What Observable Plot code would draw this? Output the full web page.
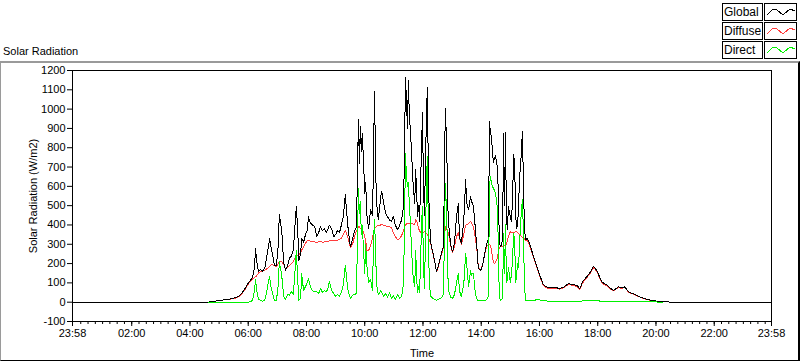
<!DOCTYPE html>
<html><head><meta charset="utf-8">
<script src="https://cdn.jsdelivr.net/npm/d3@7"></script>
<script src="https://cdn.jsdelivr.net/npm/@observablehq/plot@0.6"></script>
<style>
html,body{margin:0;padding:0;background:#fff;}
#wrap{position:relative;width:800px;height:361px;overflow:hidden;font-family:"Liberation Sans",Arial,sans-serif;font-size:11px;color:#000;background:#fff;}
#frame{position:absolute;left:0;top:61px;width:797px;height:297px;border-top:2px solid #9a9a9a;border-left:1px solid #9a9a9a;border-right:2px solid #000;border-bottom:1px solid #000;box-sizing:content-box;}
#title{position:absolute;left:3px;top:45px;font-size:11px;white-space:nowrap;}
#chart{position:absolute;left:0;top:0;}
.lab{position:absolute;left:722px;width:38px;height:16px;border:1px solid #000;background:#fff;font-size:12px;line-height:16px;padding-left:1px;box-sizing:content-box;}
.ico{position:absolute;left:764px;width:31px;height:16px;border:1px solid #000;background:#fff;}
.ico svg{display:block;}
</style>
</head><body>
<div id="wrap">
  <div id="frame"></div>
  <div id="chart"></div>
  <div id="title">Solar Radiation</div>
  <div id="legend"></div>
</div>
<script>
// ---- data ----
const times = ["23:58",
 "04:38","04:46","04:59","05:11","05:23","05:32","05:40","05:46","05:52","05:59",
 "06:05","06:09","06:13","06:15","06:17","06:21","06:25","06:29","06:34","06:38","06:42","06:44","06:46","06:50","06:54","06:58",
 "07:02","07:04","07:09","07:13","07:17","07:21","07:25","07:29","07:33","07:37","07:39","07:42","07:44","07:48","07:50","07:54","07:58",
 "08:02","08:04","08:08","08:12","08:17","08:21","08:25","08:29","08:33","08:37","08:41","08:45","08:47","08:52","08:56",
 "09:00","09:04","09:08","09:12","09:16","09:20","09:25","09:29","09:31","09:35","09:39","09:43","09:47","09:49","09:51","09:53","09:55","09:58",
 "10:00","10:02","10:04","10:08","10:12","10:16","10:18","10:20","10:22","10:24","10:26","10:28","10:33","10:35","10:39","10:43","10:47","10:51","10:55","10:59",
 "11:03","11:08","11:12","11:16","11:20","11:22","11:24","11:26","11:28","11:30","11:32","11:34","11:36","11:38","11:40","11:43","11:45","11:47","11:49","11:51","11:53","11:55","11:57","11:59",
 "12:01","12:03","12:05","12:07","12:09","12:11","12:13","12:16","12:20","12:24","12:28","12:32","12:36","12:40","12:42","12:44","12:46","12:49","12:51","12:53","12:57",
 "13:01","13:05","13:09","13:13","13:15","13:19","13:24","13:28","13:30","13:34","13:38","13:40","13:42","13:44","13:48","13:52","13:54","13:59",
 "14:03","14:07","14:11","14:15","14:17","14:19","14:21","14:23","14:25","14:27","14:29","14:32","14:34","14:36","14:38","14:40","14:44","14:46","14:48","14:50","14:52","14:54","14:56",
 "15:00","15:02","15:04","15:07","15:09","15:11","15:13","15:15","15:17","15:19","15:21","15:23","15:25","15:27","15:29","15:31","15:35","15:39","15:42","15:46","15:50","15:54","15:58",
 "16:02","16:08","16:17","16:25","16:33","16:41","16:50","16:56","17:00","17:06","17:12","17:18","17:23","17:27","17:31","17:37","17:43","17:47","17:51","17:55",
 "18:00","18:04","18:08","18:14","18:20","18:26","18:33","18:39","18:43","18:49","18:55","18:59","19:03","19:12","19:20","19:28","19:38","19:49","20:01","20:13","20:26","20:34",
 "23:58"];

const globalW = [0,
 0,4,8,12,17,22,30,45,65,95,
 115,130,180,279,220,157,170,160,175,235,290,331,296,250,192,190,
 300,452,374,203,166,190,227,240,270,420,495,380,215,250,330,310,350,
 374,443,410,400,391,339,360,391,370,380,360,383,400,380,339,
 350,372,360,400,443,556,400,310,287,330,370,390,945,720,912,780,876,700,
 560,620,461,380,478,450,700,1093,800,520,478,426,547,573,513,460,443,426,420,443,
 400,374,400,426,495,800,1162,1050,900,1150,950,900,800,700,600,513,686,560,443,500,420,600,800,980,
 600,450,700,950,1110,700,450,306,261,215,157,190,235,270,287,600,1006,800,500,400,300,
 261,306,443,513,340,306,420,634,513,478,547,520,513,495,380,253,175,166,
 190,250,300,330,937,870,860,790,722,740,760,720,680,450,300,287,320,876,500,878,430,374,495,
 442,420,500,764,700,450,380,400,500,650,700,800,885,600,400,322,330,310,287,250,220,190,160,
 131,90,76,74,75,72,77,90,97,92,90,85,69,95,114,130,150,165,184,175,
 155,130,106,95,88,72,62,72,80,74,80,70,54,45,36,26,17,10,6,3,1,0,
 0];

const diffuseW = [0,
 0,4,8,12,16,20,28,42,60,90,
 110,120,128,132,135,150,158,160,165,172,180,185,192,195,188,185,
 200,210,210,195,171,180,190,200,210,230,240,240,245,255,270,287,305,
 322,320,315,312,312,310,312,314,310,312,314,316,318,322,318,
 322,320,325,330,350,374,340,295,281,300,340,370,391,390,383,380,375,360,
 340,320,270,268,290,330,360,380,385,391,395,398,400,402,398,395,392,390,385,360,
 340,322,330,345,370,385,400,405,405,408,410,410,410,408,405,400,426,420,405,380,370,360,357,357,
 360,365,360,355,350,340,320,300,258,212,157,185,230,260,280,320,391,385,370,355,295,
 255,290,340,360,330,300,350,400,400,408,417,410,400,390,330,250,180,170,
 195,245,287,300,300,295,270,240,210,201,205,220,240,270,285,287,290,290,292,295,300,320,340,
 365,362,360,360,362,365,368,360,355,350,345,340,335,332,330,320,318,300,275,245,215,185,155,
 125,85,72,70,72,68,74,85,92,88,86,80,66,90,108,125,145,160,178,170,
 150,125,102,90,84,68,60,70,76,70,76,66,52,43,34,25,16,10,6,3,1,0,
 0];

const directW = [null,
 0,0,0,0,0,0,0,0,0,0,
 2,10,60,120,70,15,10,5,10,50,110,135,90,50,10,8,
 90,210,140,30,15,40,35,55,40,180,270,120,10,20,149,62,80,
 106,123,80,60,55,54,45,71,50,60,54,75,106,60,45,
 30,40,28,54,90,192,71,30,20,36,40,45,591,460,520,350,400,250,
 150,300,200,100,120,60,300,430,300,120,60,40,60,50,30,45,25,50,20,35,
 15,40,20,30,100,400,772,650,600,620,500,420,300,200,120,80,270,120,50,80,50,200,400,495,
 200,70,300,600,755,400,100,30,20,15,10,15,20,30,40,300,616,450,150,60,25,
 20,40,100,150,60,30,90,253,200,80,166,140,150,149,40,12,8,8,
 8,10,12,30,600,651,620,600,590,580,565,520,450,150,20,10,20,357,150,400,100,120,180,
 100,140,200,357,300,100,150,200,180,300,400,480,530,350,100,10,10,10,10,10,10,13,13,
 10,8,6,6,6,6,6,6,6,6,6,6,6,6,8,8,10,10,10,10,
 8,6,6,6,5,5,4,4,4,4,4,4,4,3,3,3,2,2,1,0,null,null,
 null];

const yTicks = [-100,0,100,200,300,400,500,600,700,800,900,1000,1100,1200];
const xTickLabels = ["23:58","02:00","04:00","06:00","08:00","10:00","12:00","14:00","16:00","18:00","20:00","22:00","23:58"];
const seriesNames = ["Global","Diffuse","Direct"];
const seriesColors = ["#000000","#ff3c3c","#00f000"];

// ---- helpers ----
function toDate(s, i) {
  const [h, m] = s.split(":").map(Number);
  const day = (i === 0) ? 1 : 2; // first "23:58" belongs to the previous day
  return new Date(Date.UTC(2000, 0, day, h, m));
}
const rows = times.map((t, i) => ({t: toDate(t, i), g: globalW[i], d: diffuseW[i], b: directW[i]}));
const majorTicks = xTickLabels.map((s, i) => toDate(s, i));
const xStart = majorTicks[0], xEnd = majorTicks[majorTicks.length - 1];
const minorTicks = d3.utcMinute.every(15).range(new Date(Date.UTC(2000,0,2,0,15)), xEnd);
const fmt = d3.utcFormat("%H:%M");

const chart = Plot.plot({
  width: 800,
  height: 361,
  marginTop: 70,
  marginBottom: 40,
  marginLeft: 72,
  marginRight: 29,
  style: {fontFamily: '"Liberation Sans", Arial, sans-serif', fontSize: "11px", color: "#000", background: "transparent", overflow: "visible"},
  x: {type: "utc", domain: [xStart, xEnd]},
  y: {domain: [-100, 1200]},
  marks: [
    Plot.line(rows, {x: "t", y: "d", stroke: seriesColors[1], strokeWidth: 1, shapeRendering: "crispEdges"}),
    Plot.line(rows, {x: "t", y: "g", stroke: seriesColors[0], strokeWidth: 1, shapeRendering: "crispEdges"}),
    Plot.line(rows, {x: "t", y: "b", stroke: seriesColors[2], strokeWidth: 1, shapeRendering: "crispEdges"}),
    Plot.frame({stroke: "#000"}),
    Plot.axisY({ticks: yTicks, tickSize: 5, tickPadding: 2, tickFormat: d => String(d),
      label: "Solar Radiation (W/m2)", labelAnchor: "center", labelArrow: "none", labelOffset: 43}),
    Plot.axisX({ticks: minorTicks, tickSize: 3, tickFormat: () => "", label: null}),
    Plot.axisX({ticks: majorTicks, tickSize: 5, tickPadding: 3, tickFormat: fmt,
      label: "Time", labelAnchor: "center", labelArrow: "none", labelOffset: 35})
  ]
});
document.getElementById("chart").appendChild(chart);

// ---- legend ----
const legend = document.getElementById("legend");
seriesNames.forEach((name, i) => {
  const top = 3 + i * 19;
  const lab = document.createElement("div");
  lab.className = "lab"; lab.style.top = top + "px"; lab.textContent = name;
  legend.appendChild(lab);
  const ico = document.createElement("div");
  ico.className = "ico"; ico.style.top = top + "px";
  ico.innerHTML = `<svg width="31" height="16"><polyline points="2,11 8,5 12,6 18,11 25,5 30,7" fill="none" stroke="${seriesColors[i]}" stroke-width="1" shape-rendering="crispEdges"/></svg>`;
  legend.appendChild(ico);
});
</script>
</body></html>
